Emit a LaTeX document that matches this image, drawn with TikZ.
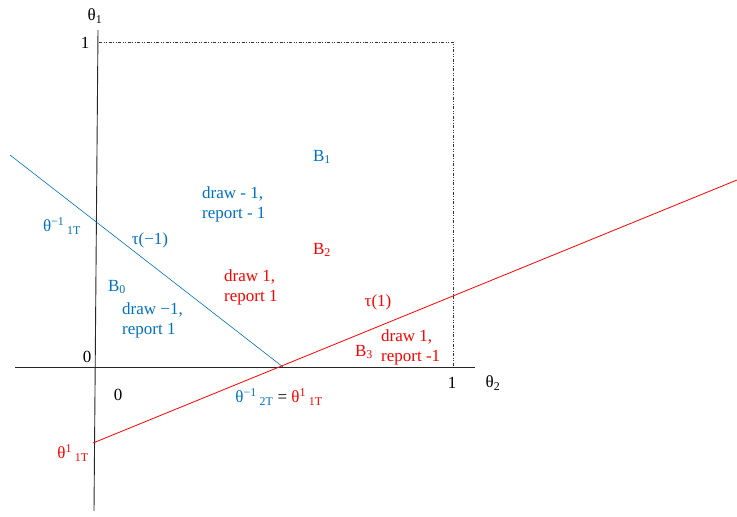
\documentclass[tikz,border=0pt]{standalone}
\usepackage{fontspec}
\setmainfont{Liberation Serif}
\usepackage{xcolor}
\usetikzlibrary{positioning}
\definecolor{regblue}{RGB}{0,112,192}
\definecolor{regred}{RGB}{255,0,0}

\begin{document}
\begin{tikzpicture}[
        x=1pt, y=-1pt,
        lbl/.style={inner sep=0pt, font=\fontsize{17}{20}\selectfont},
        txt/.style={lbl, align=left, anchor=west},
        axis/.style={draw=black!85, line width=0.9pt},
        bound/.style={draw=black!80, line width=0.7pt, dash pattern=on 3pt off 1.5pt on 1pt off 1.5pt on 1pt off 1.5pt}
    ]
    \useasboundingbox (0,0) rectangle (737,517);

    % axes
    \coordinate (ytop) at (98,30);
    \coordinate (ybot) at (94,511);
    \coordinate (xleft) at (15,367);
    \coordinate (xright) at (475,367);
    \draw[axis] (ytop) -- (ybot);
    \draw[axis] (xleft) -- (xright);
    \node[lbl] (t1) at (95,16) {θ\textsubscript{1}};
    \node[lbl] (t2) at (493,383) {θ\textsubscript{2}};
    \node[lbl] (one1) at (85,43) {1};
    \node[lbl] (one2) at (452,383) {1};
    \node[lbl] (zero1) at (87,357) {0};
    \node[lbl] (zero2) at (118,395) {0};

    % unit square
    \coordinate (sqa) at (99,42);
    \coordinate (sqb) at (453,42);
    \coordinate (sqc) at (453,367);
    \draw[bound] (sqa) -- (sqb) -- (sqc);

    % thresholds
    \coordinate (ba) at (10,155);
    \coordinate (cross) at (283,367);
    \coordinate (ra) at (93,443);
    \coordinate (rb) at (737,180);
    \draw[regblue, line width=0.6pt] (ba) -- (cross);
    \draw[regred, line width=0.8pt] (ra) -- (rb);

    \node[lbl, regblue] (th1T) at (62,226) {θ\textsuperscript{−1}\,\textsubscript{1T}};
    \node[lbl, regblue] (taum) at (150,240) {τ(−1)};
    \node[lbl, regred] (taup) at (378,302) {τ(1)};
    \node[lbl, regred] (th1Tr) at (73,453) {θ\textsuperscript{1}\,\textsubscript{1T}};
    \node[lbl] (eq) at (279,397) {\textcolor{regblue}{θ\textsuperscript{−1}\,\textsubscript{2T}} = \textcolor{regred}{θ\textsuperscript{1}\,\textsubscript{1T}}};

    % regions
    \node[lbl, regblue] (b0) at (117,287) {B\textsubscript{0}};
    \node[txt, regblue] (b0t) at (122,320) {draw −1,\\report 1};
    \node[lbl, regblue] (b1) at (322,157) {B\textsubscript{1}};
    \node[txt, regblue] (b1t) at (202,204) {draw - 1,\\report - 1};
    \node[lbl, regred] (b2) at (322,250) {B\textsubscript{2}};
    \node[txt, regred] (b2t) at (224,287) {draw 1,\\report 1};
    \node[lbl, regred] (b3) at (364,352) {B\textsubscript{3}};
    \node[txt, regred] (b3t) at (381,347) {draw 1,\\report -1};

\end{tikzpicture}
\end{document}
